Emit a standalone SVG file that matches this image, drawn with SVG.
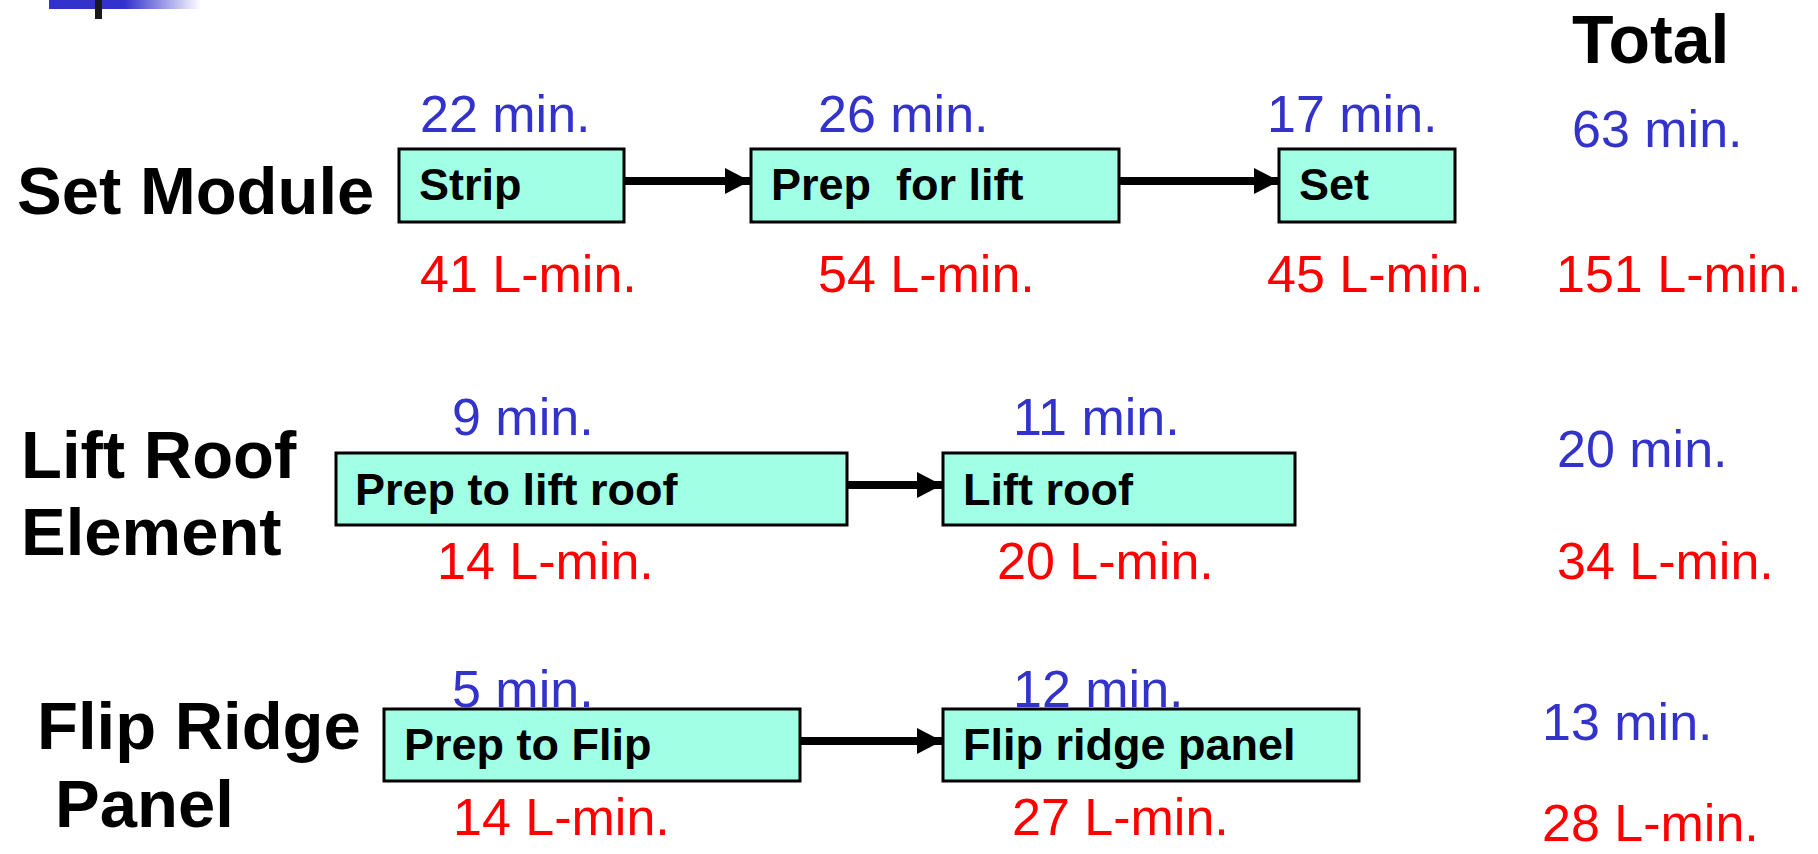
<svg xmlns="http://www.w3.org/2000/svg" width="1818" height="854" viewBox="0 0 1818 854">
  <style>
    .box { fill: #A0FFE4; stroke: #000; stroke-width: 3; }
    .boxtxt { font-family: "Liberation Sans", Arial, sans-serif; font-weight: bold; font-size: 45px; fill: #000; white-space: pre; }
    .row { font-family: "Liberation Sans", Arial, sans-serif; font-weight: bold; font-size: 67px; fill: #000; }
    .min { font-family: "Liberation Sans", Arial, sans-serif; font-size: 52px; fill: #3333CC; }
    .lmin { font-family: "Liberation Sans", Arial, sans-serif; font-size: 52px; fill: #FF0000; }
    .conn { stroke: #000; stroke-width: 8; fill: none; }
  </style>
  <defs>
    <linearGradient id="barFade" x1="0" y1="0" x2="1" y2="0">
      <stop offset="0" stop-color="#3333CC"/>
      <stop offset="0.5" stop-color="#3333CC"/>
      <stop offset="1" stop-color="#FFFFFF"/>
    </linearGradient>
    <marker id="arrow" markerUnits="userSpaceOnUse" markerWidth="25" markerHeight="26" refX="25" refY="13" orient="auto">
      <path d="M0,0 L25,13 L0,26 Z" fill="#000"/>
    </marker>
  </defs>

  <!-- header bar -->
  <rect x="49" y="0" width="152" height="9" fill="url(#barFade)"/>
  <rect x="95" y="0" width="7" height="19" fill="#1a1a1a"/>

  <text class="row" x="1572" y="63" style="font-size:68px">Total</text>

  <!-- row labels -->
  <text class="row" x="17" y="214">Set Module</text>
  <text class="row" x="21" y="478">Lift Roof</text>
  <text class="row" x="21" y="555">Element</text>
  <text class="row" x="37" y="749">Flip Ridge</text>
  <text class="row" x="55" y="827">Panel</text>

  <!-- connectors -->
  <g id="connectors">
    <line class="conn" x1="624" y1="181" x2="750" y2="181" marker-end="url(#arrow)"/>
    <line class="conn" x1="1119" y1="181" x2="1279" y2="181" marker-end="url(#arrow)"/>
    <line class="conn" x1="847" y1="485" x2="942" y2="485" marker-end="url(#arrow)"/>
    <line class="conn" x1="800" y1="741" x2="942" y2="741" marker-end="url(#arrow)"/>
  </g>

  <!-- Set Module row -->
  <g id="strip">
    <rect class="box" x="399" y="149" width="225" height="73"/>
    <text class="boxtxt" x="419" y="200">Strip</text>
    <text class="min" x="420" y="132">22 min.</text>
    <text class="lmin" x="420" y="292">41 L-min.</text>
  </g>
  <g id="prep-for-lift">
    <rect class="box" x="751" y="149" width="368" height="73"/>
    <text class="boxtxt" x="771" y="200">Prep  for lift</text>
    <text class="min" x="818" y="132">26 min.</text>
    <text class="lmin" x="818" y="292">54 L-min.</text>
  </g>
  <g id="set">
    <rect class="box" x="1279" y="149" width="176" height="73"/>
    <text class="boxtxt" x="1299" y="200">Set</text>
    <text class="min" x="1267" y="132">17 min.</text>
    <text class="lmin" x="1267" y="292">45 L-min.</text>
  </g>
  <g id="total-set-module">
    <text class="min" x="1572" y="147">63 min.</text>
    <text class="lmin" x="1556" y="292">151 L-min.</text>
  </g>

  <!-- Lift Roof Element row -->
  <g id="prep-to-lift-roof">
    <rect class="box" x="336" y="453" width="511" height="72"/>
    <text class="boxtxt" x="355" y="505">Prep to lift roof</text>
    <text class="min" x="452" y="435">9 min.</text>
    <text class="lmin" x="437" y="579">14 L-min.</text>
  </g>
  <g id="lift-roof">
    <rect class="box" x="943" y="453" width="352" height="72"/>
    <text class="boxtxt" x="963" y="505">Lift roof</text>
    <text class="min" x="1013" y="435">11 min.</text>
    <text class="lmin" x="997" y="579">20 L-min.</text>
  </g>
  <g id="total-lift-roof">
    <text class="min" x="1557" y="467">20 min.</text>
    <text class="lmin" x="1557" y="579">34 L-min.</text>
  </g>

  <!-- Flip Ridge Panel row -->
  <g id="prep-to-flip">
    <rect class="box" x="384" y="709" width="416" height="72"/>
    <text class="boxtxt" x="404" y="760">Prep to Flip</text>
    <text class="min" x="452" y="707">5 min.</text>
    <text class="lmin" x="453" y="835">14 L-min.</text>
  </g>
  <g id="flip-ridge-panel">
    <rect class="box" x="943" y="709" width="416" height="72"/>
    <text class="boxtxt" x="963" y="760">Flip ridge panel</text>
    <text class="min" x="1013" y="707">12 min.</text>
    <text class="lmin" x="1012" y="835">27 L-min.</text>
  </g>
  <g id="total-flip-ridge">
    <text class="min" x="1542" y="740">13 min.</text>
    <text class="lmin" x="1542" y="841">28 L-min.</text>
  </g>
</svg>
